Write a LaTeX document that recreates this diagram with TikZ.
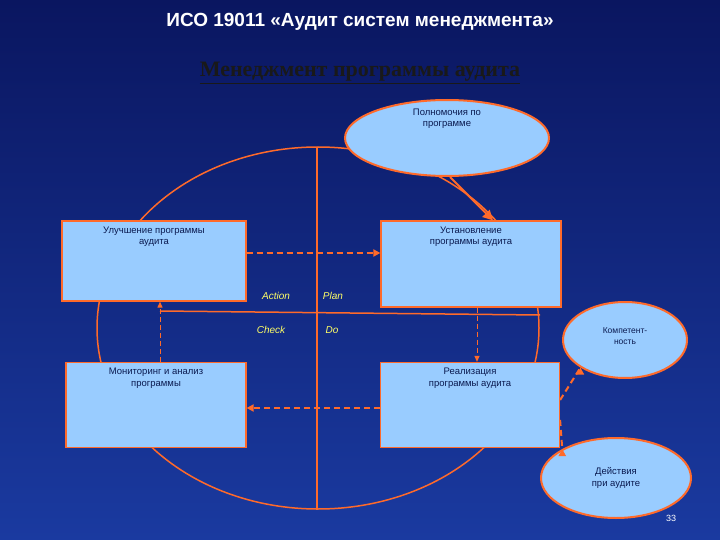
\documentclass[tikz,border=0pt]{standalone}
\usepackage{fontspec}
\setmainfont{Liberation Sans}
\newfontfamily\serifru{Liberation Serif}
\usetikzlibrary{arrows.meta,shapes.geometric}
\definecolor{bgdark}{HTML}{0A1660}
\definecolor{bgmid}{HTML}{1A3AA0}
\definecolor{boxfill}{HTML}{99CCFF}
\definecolor{oline}{HTML}{FF6A2A}
\definecolor{navy}{HTML}{0A1A50}
\definecolor{ylw}{HTML}{FFFF66}
\tikzset{
  box/.style={draw=oline,line width=1.2pt,fill=boxfill,minimum width=184pt,minimum height=84pt,inner sep=0pt},
  btext/.style={text=navy,font=\fontsize{9.5}{11.5}\selectfont,align=center},
  oval/.style={ellipse,draw=oline,line width=2pt,fill=boxfill,inner sep=0pt},
  dsh/.style={draw=oline,line width=2pt,dash pattern=on 6pt off 4pt,-{Triangle[length=7pt,width=7pt]}},
  dthin/.style={draw=oline,line width=1pt,dash pattern=on 5pt off 3pt,-{Triangle[length=6pt,width=5pt]}},
  pdca/.style={text=ylw,font=\itshape\fontsize{10}{12}\selectfont},
}
\begin{document}
\begin{tikzpicture}[x=1pt,y=-1pt]
\path[top color=bgdark,bottom color=bgmid] (0,0) rectangle (720,540);
\useasboundingbox (0,0) rectangle (720,540);
\node (title) at (360,22) {\textcolor{white}{\bfseries\fontsize{19}{22}\selectfont ИСО 19011 «Аудит систем менеджмента»}};
\node[text=black!80!gray] (sub) at (360,73) {\serifru\bfseries\fontsize{22}{26}\selectfont\underline{Менеджмент программы аудита}};
% circle and axes
\draw[oline,line width=1.5pt] (318,328) ellipse [x radius=221,y radius=181];
\coordinate (vt) at (317,147); \coordinate (vb) at (317,510);
\draw[oline,line width=1.5pt] (vt) -- (vb);
\coordinate (hl) at (160,311); \coordinate (hr) at (540,315);
\draw[oline,line width=1.5pt] (hl) -- (hr);
% boxes
\node[box,minimum height=80pt] (imp) at (154,261) {};
\node[btext,anchor=north] at (imp.north) [yshift=-3pt] {Улучшение программы\\аудита};
\node[box,minimum width=180pt,minimum height=86pt] (est) at (471,264) {};
\node[btext,anchor=north] at (est.north) [yshift=-3pt] {Установление\\программы аудита};
\node[box,minimum width=180pt,minimum height=85pt] (mon) at (156,405) {};
\node[btext,anchor=north] at (mon.north) [yshift=-3pt] {Мониторинг и анализ\\программы};
\node[box,minimum width=179pt,minimum height=85pt] (real) at (470,405) {};
\node[btext,anchor=north] at (real.north) [yshift=-3pt] {Реализация\\программы аудита};
% ovals
\node[oval,minimum width=204pt,minimum height=76pt] (pol) at (447,138) {};
\node[btext,anchor=north] at (pol.north) [yshift=-6pt] {Полномочия по\\программе};
\node[oval,minimum width=124pt,minimum height=76pt] (comp) at (625,340) {};
\node[btext,font=\fontsize{8.5}{10.5}\selectfont] at (625,336) {Компетент-\\ность};
\node[oval,minimum width=150pt,minimum height=80pt] (act) at (616,478) {};
\node[btext] at (616,478) {Действия\\при аудите};
\node[text=white,font=\fontsize{9}{10}\selectfont] (pg) at (671,518) {33};
% PDCA
\node[pdca] (a) at (276,296) {Action};
\node[pdca] (p) at (333,296) {Plan};
\node[pdca] (c) at (271,330) {Check};
\node[pdca] (d) at (332,330) {Do};
% arrows
\draw[oline,line width=2pt,-{Triangle[length=10pt,width=10pt]}] (pol.south) ++(3,0) -- (est.north -| 493,0);
\draw[dsh] (imp.east |- 0,253) -- (est.west |- 0,253);
\draw[dsh] (real.west |- 0,408) -- (mon.east |- 0,408);
\draw[dthin] (mon.north -| 160,0) -- (imp.south -| 160,0);
\draw[dthin] (est.south -| 477,0) -- (real.north -| 477,0);
\draw[dsh] (real.east |- 0,400) -- (comp.south west) ++(0,0);
\draw[dsh] (real.east |- 0,420) -- (act.north west) ++(0,0);
\end{tikzpicture}
\end{document}
